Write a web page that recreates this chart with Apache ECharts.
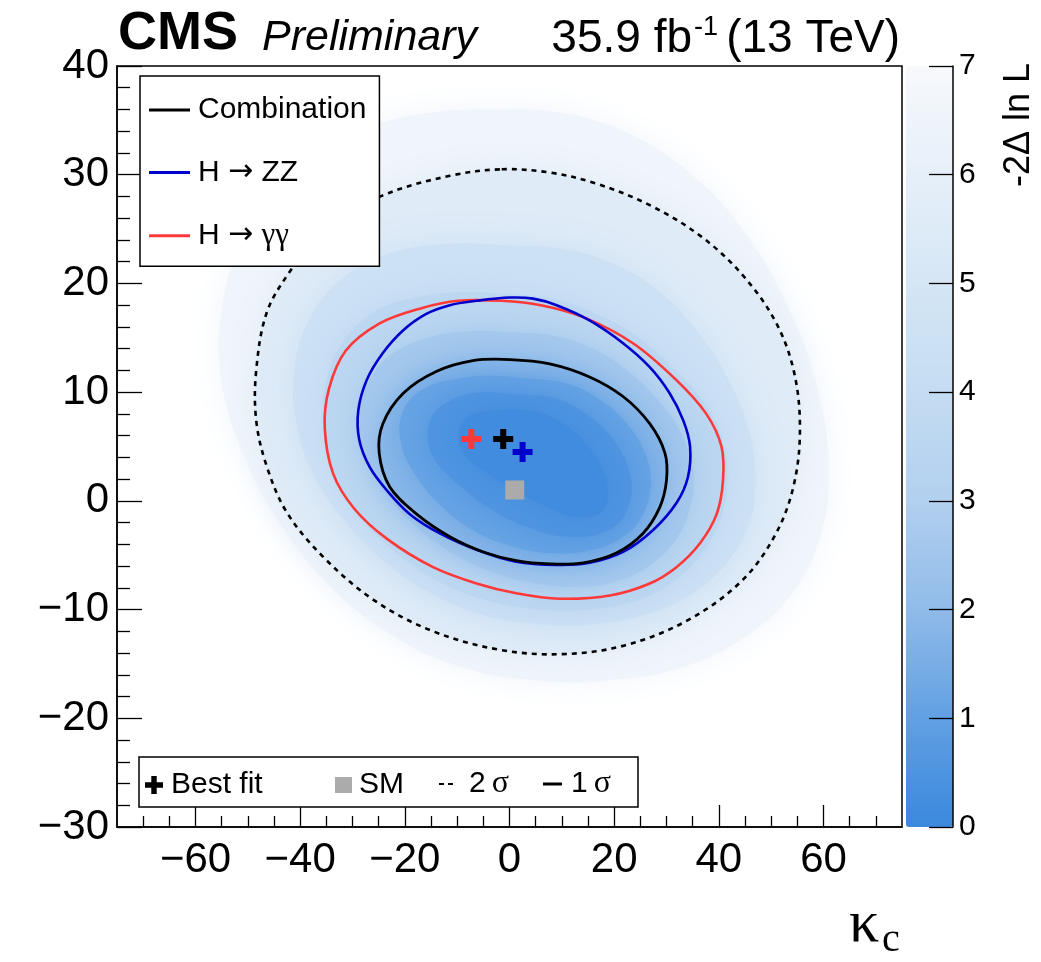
<!DOCTYPE html>
<html><head><meta charset="utf-8">
<script src="https://cdn.jsdelivr.net/npm/echarts@6/dist/echarts.min.js"></script>
<style>html,body{margin:0;padding:0;background:#fff}#c{width:1041px;height:962px}</style>
</head><body><div id="c"></div>
<script>
// ---------------- data ----------------
const xMajorTicks = [-60, -40, -20, 0, 20, 40, 60];
const xMinorTicks = [-70,-65,-55,-50,-45,-35,-30,-25,-15,-10,-5,5,10,15,25,30,35,45,50,55,65,70];
const yRange = [-30, 40];
const xRange = [-75, 75];
const zRange = [0, 7];

// combination 1 sigma (-2 dlnL = 2.30)
const combination1Sigma = [[0.1,13.0],[7.7,12.6],[15.3,11.4],[21.7,9.6],[26.8,7.1],[29.7,4.4],[30.0,1.9],[28.7,-0.6],[25.5,-3.0],[20.4,-4.8],[14.1,-5.7],[7.7,-5.8],[1.3,-5.5],[-5.0,-4.7],[-11.4,-3.3],[-17.8,-1.2],[-22.9,1.3],[-24.9,4.4],[-24.2,7.1],[-20.3,9.9],[-14.0,11.9],[-7.0,12.9]];
// combination 2 sigma (-2 dlnL = 6.18)
const combination2Sigma = [[-1.5,30.5],[7.7,30.2],[16.5,29.2],[26.8,27.2],[36.4,24.4],[44.3,20.9],[50.7,16.6],[54.3,12.0],[55.5,6.7],[54.3,1.4],[50.7,-3.2],[44.3,-7.4],[34.0,-11.0],[22.0,-13.3],[10.1,-14.1],[-1.9,-13.7],[-14.6,-12.0],[-25.7,-9.2],[-35.3,-5.3],[-42.5,-1.1],[-46.4,3.2],[-48.4,7.4],[-48.4,12.0],[-46.4,17.3],[-42.1,21.0],[-35.5,25.0],[-24.2,28.1],[-11.4,29.9]];
// H -> ZZ 1 sigma
const zz1Sigma = [[0.1,18.7],[4.5,18.6],[9.0,18.0],[15.3,16.6],[21.7,14.5],[26.8,12.3],[30.6,9.9],[33.2,7.4],[34.5,5.0],[34.1,2.2],[31.9,-0.2],[27.4,-2.7],[21.7,-4.7],[15.3,-5.7],[9.0,-5.9],[1.3,-5.6],[-6.3,-4.5],[-13.3,-3.0],[-19.1,-1.2],[-23.5,1.0],[-26.7,3.1],[-28.7,5.6],[-28.9,8.3],[-27.3,11.1],[-24.2,13.6],[-20.3,15.7],[-15.9,17.2],[-11.4,18.0],[-6.3,18.4]];
// H -> gamma gamma 1 sigma
const gg1Sigma = [[-1.5,18.4],[6.0,18.0],[14.1,16.9],[23.6,14.5],[31.9,11.1],[37.6,8.0],[40.5,5.0],[40.8,1.9],[39.6,-1.2],[36.4,-3.9],[31.9,-6.1],[26.8,-7.6],[19.2,-8.7],[9.6,-9.0],[1.3,-8.5],[-6.3,-7.6],[-14.6,-6.1],[-23.4,-3.5],[-29.7,-0.7],[-33.7,2.5],[-35.3,6.7],[-34.5,10.3],[-31.3,13.8],[-24.9,16.3],[-17.0,17.7],[-9.8,18.4]];

// iso-level outlines of the -2 dlnL surface (estimated from the colour field)
const level7 = [[0,36],[12,35.5],[24,33.5],[36,29.5],[46,24],[54,17],[59,10],[61,3],[59.5,-3],[54,-8.5],[45,-12.5],[33,-15.3],[19,-16.5],[5,-16.5],[-9,-15.3],[-22,-12.5],[-34,-8],[-44,-2],[-51,4.5],[-55,11],[-55,17.5],[-51,24],[-43,29.5],[-32,33.3],[-18,35.5]];
const level5 = [[0,23.5],[10,23.2],[19,22],[28,19.5],[36,15.5],[42,11],[46,6],[47,1.5],[45.5,-2.5],[41,-6],[34,-8.8],[25,-10.6],[15,-11.4],[5,-11.3],[-5,-10.5],[-15,-8.5],[-24,-5.5],[-32,-1.5],[-38,3],[-41,8],[-41,12.5],[-38.5,16.5],[-33,20],[-24.5,22.5],[-13,23.6]];
const level4 = [[0,19],[8,18.6],[15,17.5],[24,15.2],[32,11.8],[38,8.5],[41,5],[41.5,1.5],[40,-2],[36.5,-5],[31,-7.5],[24,-9.2],[15,-10],[6,-10],[-3,-9.3],[-12,-7.8],[-21,-5],[-28.5,-1.5],[-33.5,2.5],[-35.5,7],[-35,11],[-32,14.5],[-26,17.3],[-18,18.7],[-9,19.2]];
const level3 = [[0,15.5],[8,15.2],[15,14.2],[22,12.2],[28,9.5],[32.5,6.5],[35,3],[34.8,0],[32.5,-3],[28,-5.5],[21,-7.3],[13,-7.9],[5,-7.6],[-3,-6.6],[-11,-4.8],[-18,-2.3],[-24,1],[-28,4.5],[-29,8],[-27,11],[-22.5,13.5],[-15.5,15],[-8,15.6]];
const level15 = [[2,11.3],[10,10.9],[16,9.7],[21.5,7.6],[25.5,4.8],[27,1.8],[25.5,-1.2],[21.5,-3.4],[15,-4.6],[7.5,-4.8],[0,-4.1],[-7,-2.7],[-13,-0.5],[-18,2.4],[-20.8,5.5],[-20.2,8.4],[-16,10.4],[-9,11.3],[-3,11.5]];
const level08 = [[0,9.8],[8,9.5],[14,8.2],[19.5,5.8],[23,2.5],[22.5,-0.8],[18.5,-2.8],[11,-3.3],[4,-2.5],[-3,-0.9],[-10,1.6],[-15,4.5],[-15,7.6],[-10.5,9.4],[-5,10]];
const level03 = [[-3,8.3],[4,8.3],[10,7.2],[15,5],[18.5,2],[18,-0.8],[13,-1.5],[7,-0.5],[1,1],[-5,2.8],[-9.5,5],[-8.5,7.5]];
// value of -2 dlnL read for the band enclosed by each outline
const bandOutlines = [level7, combination2Sigma, level5, level4, level3, combination1Sigma, level15, level08, level03];
const bandValues   = [6.6, 5.6, 4.5, 3.6, 2.65, 1.9, 1.15, 0.55, 0.15];

// best fits and SM
const bestFitCombination = [-1.2, 5.7];
const bestFitZZ = [2.5, 4.5];
const bestFitGG = [-7.3, 5.7];
const smPoint = [1, 1];

// ---------------- styles ----------------
const FONT = 'Liberation Sans';
const SERIF = 'Liberation Serif';
const colorbarColors = ['#3b88dd','#61a0e3','#90bbe9','#b2d0ef','#c4dcf2','#d5e6f5','#e6eff9','#f7f9fc'];
const C_BLACK = '#000000', C_BLUE = '#0000cc', C_RED = '#ff3838', C_GREY = '#ababab';
const CROSS = 'path://M7,0H13V7H20V13H13V20H7V13H0V7H7Z';
const DASH_ICON = 'path://M0,0H5V2H0Z M9,0H14V2H9Z';
const fmt = v => (v < 0 ? '\u2212' + (-v) : String(v));

const chart = echarts.init(document.getElementById('c'), null, {renderer: 'canvas'});

function contourSeries(name, pts, color, width, dash, z) {
  return {
    name, type: 'custom', xAxisIndex: 0, yAxisIndex: 0, z, silent: true,
    itemStyle: {color},
    data: pts,
    renderItem: function (params, api) {
      if (params.dataIndex !== 0) return null;
      return {
        type: 'polygon',
        shape: {points: pts.map(p => api.coord(p)), smooth: 0.35},
        style: {fill: 'none', stroke: color, lineWidth: width, lineDash: dash || null}
      };
    }
  };
}

const tickLine = {color: '#000', width: 1.3};
const option = {
  animation: false,
  textStyle: {fontFamily: FONT},
  grid: [
    {left: 117, top: 66, width: 785, height: 761, show: true, borderColor: '#000', borderWidth: 1.5, backgroundColor: 'transparent'},
    {left: 906, top: 66, width: 47, height: 761, show: false}
  ],
  xAxis: [
    {gridIndex: 0, type: 'value', min: xRange[0], max: xRange[1], position: 'bottom',
     axisLine: {show: true, onZero: false, lineStyle: {color: '#000', width: 1.5}},
     axisTick: {show: true, inside: true, length: 22, customValues: xMajorTicks, lineStyle: tickLine},
     axisLabel: {show: true, customValues: xMajorTicks, formatter: fmt, fontSize: 42, fontFamily: FONT, color: '#000', margin: 12},
     splitLine: {show: false}},
    {gridIndex: 0, type: 'value', min: xRange[0], max: xRange[1], position: 'bottom', offset: 0,
     axisLine: {show: false, onZero: false},
     axisTick: {show: true, inside: true, length: 11, customValues: xMinorTicks, lineStyle: tickLine},
     axisLabel: {show: false}, splitLine: {show: false}},
    {gridIndex: 1, type: 'value', min: 0, max: 1, show: false}
  ],
  yAxis: [
    {gridIndex: 0, type: 'value', min: yRange[0], max: yRange[1], interval: 10, position: 'left',
     axisLine: {show: true, onZero: false, lineStyle: {color: '#000', width: 1.5}},
     axisTick: {show: true, inside: true, length: 25, lineStyle: tickLine},
     minorTick: {show: true, splitNumber: 5, length: 13, lineStyle: tickLine},
     axisLabel: {formatter: fmt, fontSize: 42, fontFamily: FONT, color: '#000', margin: 8, showMinLabel: true, showMaxLabel: true},
     splitLine: {show: false}, minorSplitLine: {show: false}},
    {gridIndex: 1, type: 'value', min: zRange[0], max: zRange[1], interval: 1, position: 'right',
     axisLine: {show: true, onZero: false, lineStyle: {color: '#000', width: 1.5}},
     axisTick: {show: true, inside: true, length: 24, lineStyle: tickLine},
     axisLabel: {fontSize: 30, fontFamily: FONT, color: '#000', margin: 6, showMinLabel: true, showMaxLabel: true},
     splitLine: {show: false}, z: 5}
  ],
  visualMap: {
    type: 'continuous', min: zRange[0], max: zRange[1], dimension: 0, seriesIndex: 0,
    left: 906, top: 66, itemWidth: 47, itemHeight: 761, padding: 0, z: 1,
    calculable: false, hoverLink: false, realtime: false,
    inRange: {color: colorbarColors}, outOfRange: {color: '#ffffff'}
  },
  legend: [
    {orient: 'vertical', left: 140, top: 76, padding: [19, 13, 15, 9], itemGap: 32.6,
     itemWidth: 41, itemHeight: 3, backgroundColor: '#fff', borderColor: '#000', borderWidth: 1.5,
     selectedMode: false, z: 10,
     formatter: function (n) {
       if (n === 'H → ZZ') return '{t|H }{a|→}{t| ZZ}';
       if (n === 'H → γγ') return '{t|H }{a|→}{t| }{g|γγ}';
       return '{t|' + n + '}';
     },
     textStyle: {fontSize: 30, color: '#000', padding: [0, 0, 0, 3],
       rich: {t: {fontSize: 30, fontFamily: FONT, lineHeight: 34, color: '#000'},
              a: {fontSize: 30, fontFamily: 'DejaVu Sans', lineHeight: 34, color: '#000'},
              g: {fontSize: 31, fontFamily: SERIF, lineHeight: 34, color: '#000'}}},
     data: [{name: 'Combination', icon: 'rect', itemStyle: {color: C_BLACK}},
            {name: 'H → ZZ', icon: 'rect', itemStyle: {color: C_BLUE}},
            {name: 'H → γγ', icon: 'rect', itemStyle: {color: C_RED}}]},
    {left: 145, top: 768, padding: 0, itemWidth: 18, itemHeight: 18, selectedMode: false, z: 10,
     textStyle: {fontSize: 30, fontFamily: FONT, color: '#000', lineHeight: 34, padding: [0, 0, 0, 3]},
     data: [{name: 'Best fit', icon: CROSS, itemStyle: {color: C_BLACK}}]},
    {left: 335, top: 768, padding: 0, itemWidth: 17, itemHeight: 16, selectedMode: false, z: 10,
     textStyle: {fontSize: 30, fontFamily: FONT, color: '#000', lineHeight: 34, padding: [0, 0, 0, 2]},
     data: [{name: 'SM', icon: 'rect', itemStyle: {color: C_GREY}}]},
    {left: 439, top: 768, padding: 0, itemWidth: 14, itemHeight: 2.5, selectedMode: false, z: 10,
     formatter: function () { return '{n|2}{s|σ}'; },
     textStyle: {padding: [0, 0, 0, 11],
       rich: {n: {fontSize: 30, fontFamily: FONT, lineHeight: 34, color: '#000'},
              s: {fontSize: 32, fontFamily: SERIF, lineHeight: 34, color: '#000', padding: [0, 0, 0, 6]}}},
     data: [{name: '2 σ', icon: DASH_ICON, itemStyle: {color: C_BLACK}}]},
    {left: 543, top: 768, padding: 0, itemWidth: 19, itemHeight: 3, selectedMode: false, z: 10,
     formatter: function () { return '{n|1}{s|σ}'; },
     textStyle: {padding: [0, 0, 0, 4],
       rich: {n: {fontSize: 30, fontFamily: FONT, lineHeight: 34, color: '#000'},
              s: {fontSize: 32, fontFamily: SERIF, lineHeight: 34, color: '#000', padding: [0, 0, 0, 6]}}},
     data: [{name: '1 σ', icon: 'rect', itemStyle: {color: C_BLACK}}]}
  ],
  graphic: [
    {type: 'rect', z: 9, shape: {x: 139, y: 757, width: 499, height: 50}, style: {fill: '#fff', stroke: '#000', lineWidth: 1.5}},
    {type: 'text', z: 10, x: 118, y: 34, style: {text: 'CMS', font: 'bold 54px ' + FONT, fill: '#000', align: 'left', verticalAlign: 'middle', textAlign: 'left', textVerticalAlign: 'middle'}},
    {type: 'text', z: 10, x: 262, y: 38, style: {text: 'Preliminary', font: 'italic 43px ' + FONT, fill: '#000', align: 'left', verticalAlign: 'middle', textAlign: 'left', textVerticalAlign: 'middle'}},
    {type: 'text', z: 10, x: 900, y: 39, style: {text: '(13 TeV)', font: '46px ' + FONT, fill: '#000', align: 'right', verticalAlign: 'middle', textAlign: 'right', textVerticalAlign: 'middle'}},
    {type: 'text', z: 10, x: 694, y: 28, style: {text: '-1', font: '27px ' + FONT, fill: '#000', align: 'left', verticalAlign: 'middle', textAlign: 'left', textVerticalAlign: 'middle'}},
    {type: 'text', z: 10, x: 692, y: 39, style: {text: '35.9 fb', font: '46px ' + FONT, fill: '#000', align: 'right', verticalAlign: 'middle', textAlign: 'right', textVerticalAlign: 'middle'}},
    {type: 'text', z: 10, x: 1019, y: 63, rotation: Math.PI / 2, style: {text: '-2Δ ln L', font: '36px ' + FONT, fill: '#000', align: 'right', verticalAlign: 'middle', textAlign: 'right', textVerticalAlign: 'middle'}},
    {type: 'text', z: 10, x: 849, y: 925, style: {text: 'κ', font: '60px ' + SERIF, fill: '#000', align: 'left', verticalAlign: 'middle', textAlign: 'left', textVerticalAlign: 'middle'}},
    {type: 'text', z: 10, x: 882, y: 940, style: {text: 'c', font: '40px ' + SERIF, fill: '#000', align: 'left', verticalAlign: 'middle', textAlign: 'left', textVerticalAlign: 'middle'}}
  ],
  series: [
    {name: 'field', type: 'custom', xAxisIndex: 0, yAxisIndex: 0, z: 1, silent: true,
     data: bandValues.map((v, i) => [v, i]),
     renderItem: function (params, api) {
       const pts = bandOutlines[api.value(1)].map(p => api.coord(p));
       const col = api.visual('color');
       return {type: 'polygon', shape: {points: pts, smooth: 0.4},
               style: {fill: col, stroke: null, shadowBlur: 34, shadowColor: col}};
     }},
    contourSeries('H → γγ', gg1Sigma, C_RED, 2.6, null, 3),
    contourSeries('H → ZZ', zz1Sigma, C_BLUE, 2.6, null, 3),
    contourSeries('Combination', combination1Sigma, C_BLACK, 2.8, null, 4),
    contourSeries('2 σ', combination2Sigma, C_BLACK, 2.6, [5, 5], 4),
    {name: '1 σ', type: 'custom', xAxisIndex: 0, yAxisIndex: 0, itemStyle: {color: C_BLACK}, data: [], renderItem: () => null},
    {name: 'SM', type: 'scatter', xAxisIndex: 0, yAxisIndex: 0, z: 5, silent: true,
     symbol: 'rect', symbolSize: 19, itemStyle: {color: C_GREY, opacity: 1},
     data: [smPoint]},
    {name: 'Best fit', type: 'scatter', xAxisIndex: 0, yAxisIndex: 0, z: 6, silent: true,
     symbol: CROSS, symbolSize: 20, itemStyle: {color: C_BLACK, opacity: 1},
     data: [{value: bestFitGG, itemStyle: {color: C_RED}},
            {value: bestFitCombination, itemStyle: {color: C_BLACK}},
            {value: bestFitZZ, itemStyle: {color: C_BLUE}}]}
  ]
};
chart.setOption(option);
</script></body></html>
